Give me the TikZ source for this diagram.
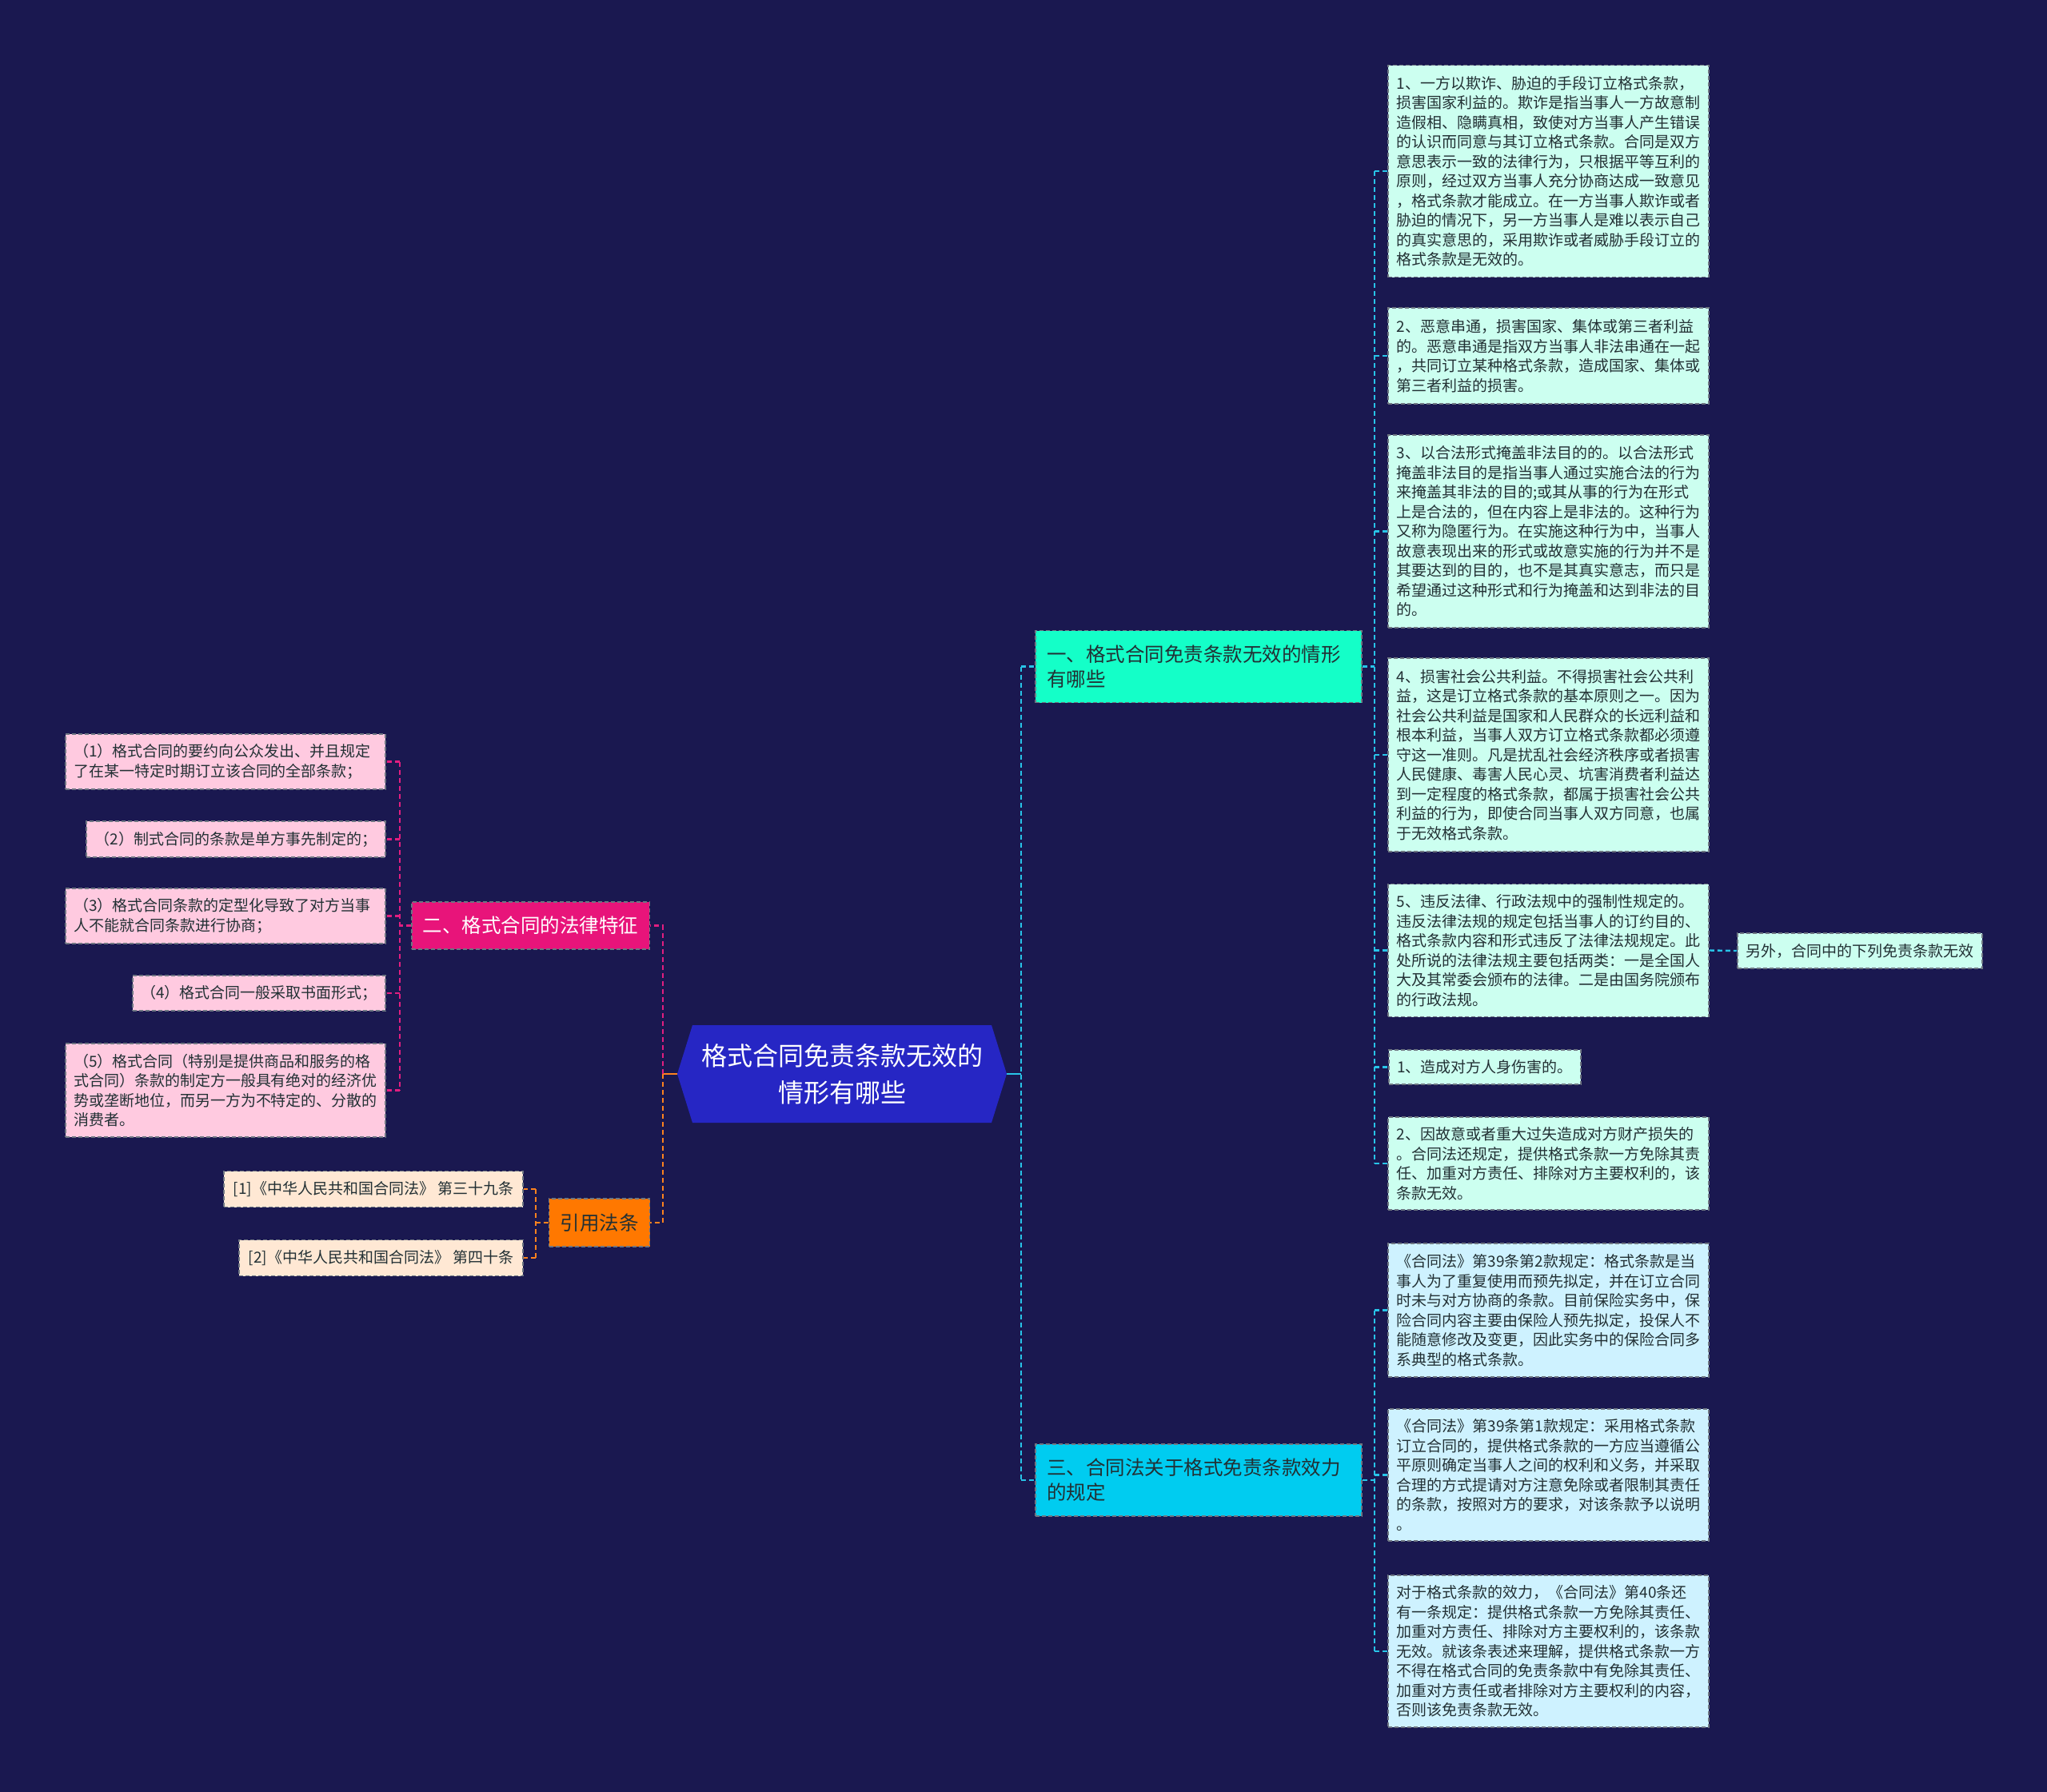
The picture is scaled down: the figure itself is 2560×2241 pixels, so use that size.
\documentclass[tikz,border=0pt]{standalone}
\usepackage{fontspec}
\setmainfont{Noto Sans CJK SC}
\definecolor{bgc}{RGB}{26,24,80}
\definecolor{rootc}{RGB}{38,38,196}
\definecolor{brA}{RGB}{20,255,200}
\definecolor{brC}{RGB}{0,204,240}
\definecolor{brB}{RGB}{232,20,122}
\definecolor{brD}{RGB}{255,120,0}
\definecolor{lfA}{RGB}{204,255,240}
\definecolor{lfC}{RGB}{206,242,255}
\definecolor{lfB}{RGB}{255,202,224}
\definecolor{lfD}{RGB}{255,232,212}
\definecolor{bord}{RGB}{110,118,130}
\definecolor{txt}{RGB}{34,48,52}
\definecolor{lnA}{RGB}{40,196,232}
\definecolor{lnB}{RGB}{226,30,128}
\definecolor{lnD}{RGB}{255,130,30}
\tikzset{
  box/.style={rectangle, draw=bord, dash pattern=on 5pt off 3pt, line width=1.6pt,
    text=txt, font=\fontsize{19}{24.5}\selectfont, inner xsep=10.5pt, inner ysep=0pt},
  multi/.style={text width=380pt, align=left, minimum width=401pt},
  single/.style={align=center},
  leafA/.style={box, fill=lfA},
  leafC/.style={box, fill=lfC},
  leafB/.style={box, fill=lfB},
  leafD/.style={box, fill=lfD},
  branch/.style={rectangle, draw=bord, dash pattern=on 5pt off 3pt, line width=1.6pt,
    font=\fontsize{24.5}{31}\selectfont, inner xsep=14pt, inner ysep=0pt},
  link/.style={line width=2.4pt, dash pattern=on 6pt off 4pt},
  solidlink/.style={line width=2.6pt},
}
\begin{document}
\begin{tikzpicture}[x=1pt,y=-1pt]
\useasboundingbox (0,0) rectangle (2560,2241);
\fill[bgc] (0,0) rectangle (2560,2241);

% root hexagon
\fill[rootc] (847,1343) -- (866,1282) -- (1240,1282) -- (1259,1343) -- (1240,1404) -- (866,1404) -- cycle;
\node[minimum width=412pt, minimum height=122pt, inner sep=0pt, align=center, text=white,
  font=\fontsize{32}{46}\selectfont] (root) at (1053,1343) {格式合同免责条款无效的\\情形有哪些};

% branches
\node[branch, fill=brA, text=txt, text width=380pt, align=left, minimum width=408pt, minimum height=90pt]
  (b1) at (1499,833.5) {一、格式合同免责条款无效的情形\\有哪些};
\node[branch, fill=brC, text=txt, text width=380pt, align=left, minimum width=408pt, minimum height=90pt]
  (b3) at (1499,1851) {三、合同法关于格式免责条款效力\\的规定};
\node[branch, fill=brB, text=white, minimum width=296pt, minimum height=59pt]
  (b2) at (663.7,1157.6) {二、格式合同的法律特征};
\node[branch, fill=brD, text=txt, minimum width=125pt, minimum height=60pt]
  (b4) at (749.5,1529) {引用法条};

% leaves of branch 1
\node[leafA, multi, minimum height=265pt] (l1) at (1936.5,214) {1、一方以欺诈、胁迫的手段订立格式条款，\\损害国家利益的。欺诈是指当事人一方故意制\\造假相、隐瞒真相，致使对方当事人产生错误\\的认识而同意与其订立格式条款。合同是双方\\意思表示一致的法律行为，只根据平等互利的\\原则，经过双方当事人充分协商达成一致意见\\，格式条款才能成立。在一方当事人欺诈或者\\胁迫的情况下，另一方当事人是难以表示自己\\的真实意思的，采用欺诈或者威胁手段订立的\\格式条款是无效的。};
\node[leafA, multi, minimum height=120pt] (l2) at (1936.5,445) {2、恶意串通，损害国家、集体或第三者利益\\的。恶意串通是指双方当事人非法串通在一起\\，共同订立某种格式条款，造成国家、集体或\\第三者利益的损害。};
\node[leafA, multi, minimum height=241pt] (l3) at (1936.5,664.5) {3、以合法形式掩盖非法目的的。以合法形式\\掩盖非法目的是指当事人通过实施合法的行为\\来掩盖其非法的目的;或其从事的行为在形式\\上是合法的，但在内容上是非法的。这种行为\\又称为隐匿行为。在实施这种行为中，当事人\\故意表现出来的形式或故意实施的行为并不是\\其要达到的目的，也不是其真实意志，而只是\\希望通过这种形式和行为掩盖和达到非法的目\\的。};
\node[leafA, multi, minimum height=242pt] (l4) at (1936.5,944) {4、损害社会公共利益。不得损害社会公共利\\益，这是订立格式条款的基本原则之一。因为\\社会公共利益是国家和人民群众的长远利益和\\根本利益，当事人双方订立格式条款都必须遵\\守这一准则。凡是扰乱社会经济秩序或者损害\\人民健康、毒害人民心灵、坑害消费者利益达\\到一定程度的格式条款，都属于损害社会公共\\利益的行为，即使合同当事人双方同意，也属\\于无效格式条款。};
\node[leafA, multi, minimum height=166pt] (l5) at (1936.5,1188.5) {5、违反法律、行政法规中的强制性规定的。\\违反法律法规的规定包括当事人的订约目的、\\格式条款内容和形式违反了法律法规规定。此\\处所说的法律法规主要包括两类：一是全国人\\大及其常委会颁布的法律。二是由国务院颁布\\的行政法规。};
\node[leafA, single, minimum width=306pt, minimum height=44pt] (l5a) at (2326,1189) {另外，合同中的下列免责条款无效};
\node[leafA, single, minimum width=240pt, minimum height=43pt] (l6) at (1857,1334.5) {1、造成对方人身伤害的。};
\node[leafA, multi, minimum height=116pt] (l7) at (1936.5,1455) {2、因故意或者重大过失造成对方财产损失的\\。合同法还规定，提供格式条款一方免除其责\\任、加重对方责任、排除对方主要权利的，该\\条款无效。};

% leaves of branch 3
\node[leafC, multi, minimum height=167pt] (r1) at (1936.5,1638.5) {《合同法》第39条第2款规定：格式条款是当\\事人为了重复使用而预先拟定，并在订立合同\\时未与对方协商的条款。目前保险实务中，保\\险合同内容主要由保险人预先拟定，投保人不\\能随意修改及变更，因此实务中的保险合同多\\系典型的格式条款。};
\node[leafC, multi, minimum height=165pt] (r2) at (1936.5,1844.5) {《合同法》第39条第1款规定：采用格式条款\\订立合同的，提供格式条款的一方应当遵循公\\平原则确定当事人之间的权利和义务，并采取\\合理的方式提请对方注意免除或者限制其责任\\的条款，按照对方的要求，对该条款予以说明\\。};
\node[leafC, multi, minimum height=190pt] (r3) at (1936.5,2065) {对于格式条款的效力，《合同法》第40条还\\有一条规定：提供格式条款一方免除其责任、\\加重对方责任、排除对方主要权利的，该条款\\无效。就该条表述来理解，提供格式条款一方\\不得在格式合同的免责条款中有免除其责任、\\加重对方责任或者排除对方主要权利的内容，\\否则该免责条款无效。};

% leaves of branch 2
\node[leafB, multi, minimum width=400pt, inner xsep=10pt, minimum height=69pt] (p1) at (282,952.5) {（1）格式合同的要约向公众发出、并且规定\\了在某一特定时期订立该合同的全部条款；};
\node[leafB, single, minimum width=374pt, minimum height=45pt] (p2) at (295,1049.5) {（2）制式合同的条款是单方事先制定的；};
\node[leafB, multi, minimum width=400pt, inner xsep=10pt, minimum height=69pt] (p3) at (282,1145.5) {（3）格式合同条款的定型化导致了对方当事\\人不能就合同条款进行协商；};
\node[leafB, single, minimum width=316pt, minimum height=44pt] (p4) at (324,1242) {（4）格式合同一般采取书面形式；};
\node[leafB, multi, minimum width=400pt, inner xsep=10pt, minimum height=117pt] (p5) at (282,1363.5) {（5）格式合同（特别是提供商品和服务的格\\式合同）条款的制定方一般具有绝对的经济优\\势或垄断地位，而另一方为不特定的、分散的\\消费者。};

% citations
\node[leafD, single, minimum width=374pt, minimum height=45pt] (c1) at (467,1487) {[1]《中华人民共和国合同法》 第三十九条};
\node[leafD, single, minimum width=355pt, minimum height=45pt] (c2) at (476.5,1573) {[2]《中华人民共和国合同法》 第四十条};

% bus coordinates
\coordinate (busR) at (1277,0);
\coordinate (busA) at (1719,0);
\coordinate (busL) at (829,0);
\coordinate (busP) at (500,0);
\coordinate (busC) at (670,0);

% right side from root
\draw[lnA, solidlink] (root.east) -- (root.east -| busR);
\draw[lnA, link] (b1.west -| busR) -- (b3.west -| busR);
\draw[lnA, link] (b1.west -| busR) -- (b1.west);
\draw[lnA, link] (b3.west -| busR) -- (b3.west);

% branch 1 leaves
\draw[lnA, link] (b1.east) -- (b1.east -| busA);
\draw[lnA, link] (l1.west -| busA) -- (l7.west -| busA);
\foreach \n in {l1,l2,l3,l4,l5,l6,l7} \draw[lnA, link] (\n.west -| busA) -- (\n.west);
\draw[lnA, link] (l5.east) -- (l5a.west);

% branch 3 leaves
\draw[lnA, link] (b3.east) -- (b3.east -| busA);
\draw[lnA, link] (r1.west -| busA) -- (r3.west -| busA);
\foreach \n in {r1,r2,r3} \draw[lnA, link] (\n.west -| busA) -- (\n.west);

% left side from root
\draw[lnD, solidlink] (root.west) -- (root.west -| busL);
\draw[lnB, link] (root.west -| busL) -- (b2.east -| busL) -- (b2.east);
\draw[lnD, link] (root.west -| busL) -- (b4.east -| busL) -- (b4.east);

% branch 2 leaves
\draw[lnB, link] (b2.west) -- (b2.west -| busP);
\draw[lnB, link] (p1.east -| busP) -- (p5.east -| busP);
\foreach \n in {p1,p2,p3,p4,p5} \draw[lnB, link] (\n.east -| busP) -- (\n.east);

% citations
\draw[lnD, link] (b4.west) -- (b4.west -| busC);
\draw[lnD, link] (c1.east -| busC) -- (c2.east -| busC);
\foreach \n in {c1,c2} \draw[lnD, link] (\n.east -| busC) -- (\n.east);
\end{tikzpicture}
\end{document}
